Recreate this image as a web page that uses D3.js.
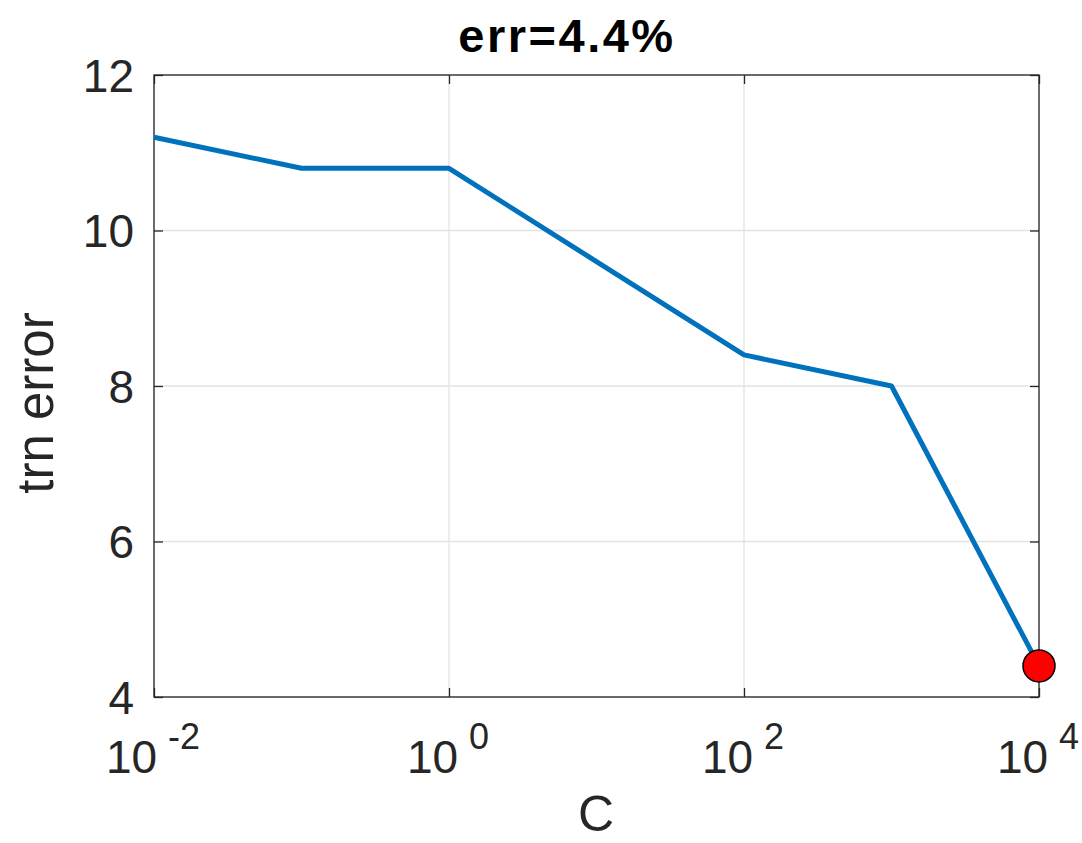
<!DOCTYPE html>
<html>
<head>
<meta charset="utf-8">
<script src="https://cdn.jsdelivr.net/npm/d3@7"></script>
<style>
  body { margin: 0; background: #fff; }
  text { font-family: "Liberation Sans", Arial, sans-serif; fill: #262626; }
</style>
</head>
<body>
<svg id="chart"></svg>
<script>
const cValues = [0.01, 0.1, 1, 10, 100, 1000, 10000];
const trnError = [11.2, 10.8, 10.8, 9.6, 8.4, 8.0, 4.4];
const bestPoint = { c: 10000, err: 4.4 };
const xTickExp = [-2, 0, 2, 4];
const yTicks = [4, 6, 8, 10, 12];
const titleText = "err=4.4%";

const width = 1082,
  height = 843;
const margin = { top: 75, bottom: 146, left: 154, right: 43 };

const svg = d3
  .select("#chart")
  .attr("width", width)
  .attr("height", height)
  .attr("viewBox", [0, 0, width, height]);

const X = d3
  .scaleLog()
  .domain([0.01, 10000])
  .range([margin.left, width - margin.right]);

const Y = d3
  .scaleLinear()
  .domain([4, 12])
  .range([height - margin.bottom, margin.top]);

const axisColor = "#262626";
const tickLen = 9;

// grid
const grid = svg.append("g").attr("class", "grid");
grid
  .selectAll(".gx")
  .data(xTickExp)
  .join("line")
  .attr("x1", (d) => X(Math.pow(10, d)))
  .attr("x2", (d) => X(Math.pow(10, d)))
  .attr("y1", Y(4))
  .attr("y2", Y(12))
  .style("stroke", "#e3e3e3")
  .style("stroke-width", 1.3);
grid
  .selectAll(".gy")
  .data(yTicks)
  .join("line")
  .attr("x1", X(0.01))
  .attr("x2", X(10000))
  .attr("y1", (d) => Y(d))
  .attr("y2", (d) => Y(d))
  .style("stroke", "#e3e3e3")
  .style("stroke-width", 1.3);

// box + ticks on all four sides
const axes = svg.append("g");
axes
  .append("rect")
  .attr("x", X(0.01))
  .attr("y", Y(12))
  .attr("width", X(10000) - X(0.01))
  .attr("height", Y(4) - Y(12))
  .style("fill", "none")
  .style("stroke", axisColor)
  .style("stroke-width", 1.3);

const xAxis = d3
  .axisBottom(X)
  .tickValues(xTickExp.map((e) => Math.pow(10, e)))
  .tickFormat("")
  .tickSizeInner(-tickLen)
  .tickSizeOuter(0);
const xAxisTop = d3
  .axisTop(X)
  .tickValues(xTickExp.map((e) => Math.pow(10, e)))
  .tickFormat("")
  .tickSizeInner(-tickLen)
  .tickSizeOuter(0);
const yAxis = d3
  .axisLeft(Y)
  .tickValues(yTicks)
  .tickFormat("")
  .tickSizeInner(-tickLen)
  .tickSizeOuter(0);
const yAxisRight = d3
  .axisRight(Y)
  .tickValues(yTicks)
  .tickFormat("")
  .tickSizeInner(-tickLen)
  .tickSizeOuter(0);

function styleAxis(g) {
  g.select(".domain").remove();
  g.selectAll(".tick line").style("stroke", axisColor).style("stroke-width", 1.3);
}
axes.append("g").attr("transform", `translate(0,${Y(4)})`).call(xAxis).call(styleAxis);
axes.append("g").attr("transform", `translate(0,${Y(12)})`).call(xAxisTop).call(styleAxis);
axes.append("g").attr("transform", `translate(${X(0.01)},0)`).call(yAxis).call(styleAxis);
axes.append("g").attr("transform", `translate(${X(10000)},0)`).call(yAxisRight).call(styleAxis);

// tick labels
const yLabels = svg.append("g");
yLabels
  .selectAll("text")
  .data(yTicks)
  .join("text")
  .attr("x", X(0.01) - 20)
  .attr("y", (d) => Y(d))
  .attr("dy", "0.36em")
  .attr("text-anchor", "end")
  .style("font-size", "46px")
  .text((d) => d);

const xLabels = svg.append("g");
xLabels
  .selectAll("text")
  .data(xTickExp)
  .join("text")
  .attr("x", (d) => X(Math.pow(10, d)) - 1)
  .attr("y", 773)
  .attr("text-anchor", "middle")
  .style("font-size", "46px")
  .each(function (d) {
    const t = d3.select(this);
    t.append("tspan").text("10");
    t.append("tspan")
      .attr("dx", 11)
      .attr("dy", -24)
      .style("font-size", "36px")
      .text(d);
  });

// line
const line = d3
  .line()
  .x((d, i) => X(cValues[i]))
  .y((d) => Y(d));

svg
  .append("path")
  .datum(trnError)
  .attr("d", line)
  .style("fill", "none")
  .style("stroke", "#0072BD")
  .style("stroke-width", 5)
  .style("stroke-linejoin", "round");

svg
  .append("circle")
  .attr("cx", X(bestPoint.c))
  .attr("cy", Y(bestPoint.err))
  .attr("r", 16)
  .style("fill", "#ff0000")
  .style("stroke", "#000")
  .style("stroke-width", 1.5);

// titles
svg
  .append("text")
  .attr("x", 567)
  .attr("y", 52)
  .attr("text-anchor", "middle")
  .style("font-size", "47px")
  .style("font-weight", "bold")
  .style("letter-spacing", "2.5px")
  .style("fill", "#000")
  .text(titleText);

svg
  .append("text")
  .attr("x", 596)
  .attr("y", 831)
  .attr("text-anchor", "middle")
  .style("font-size", "50px")
  .text("C");

svg
  .append("text")
  .attr("transform", `translate(53,403) rotate(-90)`)
  .attr("text-anchor", "middle")
  .style("font-size", "51px")
  .text("trn error");
</script>
</body>
</html>
